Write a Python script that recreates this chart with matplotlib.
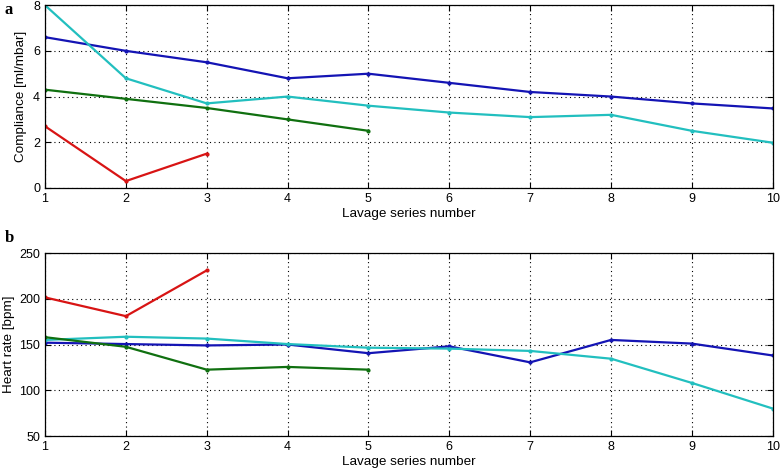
import numpy as np
import matplotlib.pyplot as plt

plt.rcParams['font.family'] = ['Liberation Sans', 'DejaVu Sans']

series = np.arange(1, 11)

# Compliance [ml/mbar]
comp_blue = [6.6, 6.0, 5.5, 4.8, 5.0, 4.6, 4.2, 4.0, 3.7, 3.48]
comp_cyan = [8.0, 4.8, 3.7, 4.0, 3.6, 3.3, 3.1, 3.2, 2.5, 1.98]
comp_green = [4.3, 3.9, 3.5, 3.0, 2.5]
comp_red = [2.7, 0.3, 1.5]

# Heart rate [bpm]
hr_blue = [152, 150.5, 149, 150, 140.5, 148, 130.5, 155, 151, 138]
hr_cyan = [155, 158.5, 156.5, 150.5, 146.5, 145.5, 143, 134.5, 108, 80]
hr_green = [158, 147.5, 122.5, 125.5, 122.5]
hr_red = [201.5, 181, 231]

c_blue = '#1414b4'
c_cyan = '#22bfbf'
c_green = '#107010'
c_red = '#d81414'

fig = plt.figure(figsize=(7.8, 4.71), dpi=100)
ax1 = fig.add_axes([0.0577, 0.601, 0.933, 0.388])
ax2 = fig.add_axes([0.0577, 0.0743, 0.933, 0.3885])


def draw(ax, data, ylim, yticks, ylabel, ylab_x):
    for vals, col in data:
        ax.plot(series[:len(vals)], vals, color=col, lw=1.6, marker='.', ms=4)
    ax.set_xlim(1, 10)
    ax.set_ylim(*ylim)
    ax.set_xticks(series)
    ax.set_yticks(yticks)
    ax.grid(True, color='black', linestyle=(0, (1, 3)), lw=0.8)
    ax.tick_params(direction='in', top=True, right=True, labelsize=9, length=4)
    ax.set_xlabel('Lavage series number', fontsize=9.7, labelpad=2)
    ax.set_ylabel(ylabel, fontsize=9.7)
    ax.yaxis.set_label_coords(ylab_x, 0.5)
    for s in ax.spines.values():
        s.set_linewidth(0.9)


draw(ax1, [(comp_blue, c_blue), (comp_cyan, c_cyan), (comp_green, c_green), (comp_red, c_red)],
     (0, 8), [0, 2, 4, 6, 8], 'Compliance [ml/mbar]', -0.025)
draw(ax2, [(hr_blue, c_blue), (hr_cyan, c_cyan), (hr_green, c_green), (hr_red, c_red)],
     (50, 250), [50, 100, 150, 200, 250], 'Heart rate [bpm]', -0.041)

fig.text(0.006, 0.978, 'a', fontsize=12, fontweight='bold', family='Liberation Serif', va='center')
fig.text(0.006, 0.494, 'b', fontsize=12, fontweight='bold', family='Liberation Serif', va='center')

fig.savefig('out.png', dpi=100)
